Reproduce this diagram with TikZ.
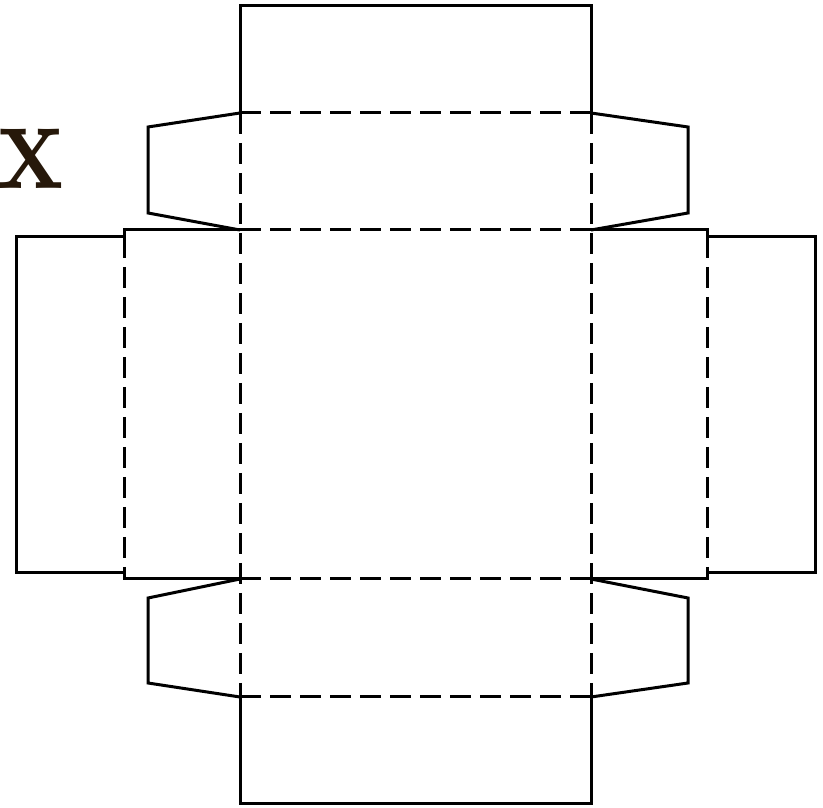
\documentclass[tikz,border=0pt]{standalone}
\usepackage{amsfonts,amssymb,amsmath}
\usepackage{xcolor}
\usetikzlibrary{calc,positioning}
\definecolor{inkbrown}{RGB}{38,24,10}
\tikzset{cut/.style={line width=0.060000cm,line join=miter},
	fold/.style={line width=0.060000cm,dash pattern=on 0.420000cm off 0.180000cm}}

\begin{document}
\begin{tikzpicture}
                        \useasboundingbox (0,0) rectangle (16.460000,16.140000);
                        {\footnotesize

                        % Drawing top panel
                        \draw [cut] (4.800000,13.880000) -- (4.800000,16.020000) -- (11.820000,16.020000) -- (11.820000,13.880000);%

                        % Drawing bottom panel
                        \draw [cut] (4.800000,2.200000) -- (4.800000,0.080000) -- (11.820000,0.080000) -- (11.820000,2.200000);%

                        % Drawing top left flap
                        \draw [cut] (4.800000,13.880000) -- (2.960000,13.600000) -- (2.960000,11.880000) -- (4.800000,11.540000);%

                        % Drawing top right flap
                        \draw [cut] (11.820000,13.880000) -- (13.760000,13.600000) -- (13.760000,11.880000) -- (11.820000,11.540000);%

                        % Drawing bottom left flap
                        \draw [cut] (4.800000,4.560000) -- (2.960000,4.180000) -- (2.960000,2.480000) -- (4.800000,2.200000);%

                        % Drawing bottom right flap
                        \draw [cut] (11.820000,4.560000) -- (13.760000,4.180000) -- (13.760000,2.480000) -- (11.820000,2.200000);%

                        % Drawing left side panel
                        \draw [cut] (4.800000,11.540000) -- (2.480000,11.540000) -- (2.480000,11.400000) -- (0.320000,11.400000) -- (0.320000,4.680000) -- (2.480000,4.680000) -- (2.480000,4.560000) -- (4.800000,4.560000);%

                        % Drawing right side panel
                        \draw [cut] (11.820000,11.540000) -- (14.140000,11.540000) -- (14.140000,11.400000) -- (16.300000,11.400000) -- (16.300000,4.680000) -- (14.140000,4.680000) -- (14.140000,4.560000) -- (11.820000,4.560000);%

                        % Drawing fold lines across
                        \draw [fold] (4.800000,13.880000) -- (11.820000,13.880000);%
                        \draw [fold] (4.800000,11.540000) -- (11.820000,11.540000);%
                        \draw [fold] (4.800000,4.560000) -- (11.820000,4.560000);%
                        \draw [fold] (4.800000,2.200000) -- (11.820000,2.200000);%

                        % Drawing fold lines down
                        \draw [fold] (4.800000,13.880000) -- (4.800000,2.200000);%
                        \draw [fold] (11.820000,13.880000) -- (11.820000,2.200000);%
                        \draw [fold] (2.480000,11.400000) -- (2.480000,4.680000);%
                        \draw [fold] (14.140000,11.400000) -- (14.140000,4.680000);%

                        % Marking label x
                        \node (lblx) [inkbrown,font=\bfseries\fontsize{76}{76}\selectfont,xscale=0.82,inner sep=0pt] at (0.620000,12.960000) {x};%
                        }
                    \end{tikzpicture}
\end{document}
